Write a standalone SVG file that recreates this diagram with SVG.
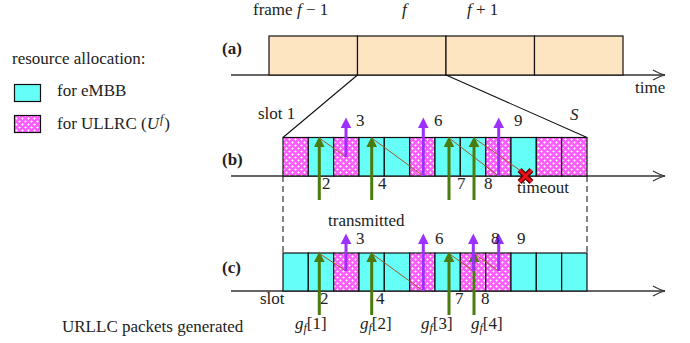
<svg xmlns="http://www.w3.org/2000/svg" width="690" height="343" viewBox="0 0 690 343">
<defs>
<style>
text{font-family:"Liberation Serif","Times New Roman",serif;font-size:17px;fill:#222}
.it{font-style:italic}
.b{font-weight:bold}
.ax{stroke:#333;stroke-width:1.3;fill:none}
.frame{fill:#fde5c2;stroke:#111;stroke-width:1.2}
.e{fill:#66fff8;stroke:#111;stroke-width:1.2}
.u{fill:url(#dots);stroke:#111;stroke-width:1.2}
.zl{stroke:#111;stroke-width:1.1;fill:none}
.dash{stroke:#333;stroke-width:1.2;stroke-dasharray:6 4;fill:none}
.g{stroke:#4b7a0e;stroke-width:3;fill:none;marker-end:url(#gh)}
.p{stroke:#9b30ff;stroke-width:3;fill:none;marker-end:url(#ph)}
.br{stroke:#a0572a;stroke-width:1;fill:none}
</style>
<pattern id="dots" width="6" height="6" patternUnits="userSpaceOnUse">
<rect width="6" height="6" fill="#ff5cff"/>
<path d="M1.5 0.4v2.2M0.4 1.5h2.2M4.5 3.4v2.2M3.4 4.5h2.2" stroke="#fff" stroke-width="1"/>
</pattern>
<marker id="gh" markerUnits="userSpaceOnUse" markerWidth="12" markerHeight="12" viewBox="0 0 10 10" refX="1" refY="5" orient="auto"><path d="M0 0.5L9 5L0 9.5z" fill="#4b7a0e"/></marker>
<marker id="ph" markerUnits="userSpaceOnUse" markerWidth="12" markerHeight="12" viewBox="0 0 10 10" refX="1" refY="5" orient="auto"><path d="M0 0.5L9 5L0 9.5z" fill="#9b30ff"/></marker>
<marker id="ta" markerUnits="userSpaceOnUse" markerWidth="14" markerHeight="12" viewBox="0 0 14 12" refX="13" refY="6" orient="auto"><path d="M1 1Q8 5 13 6Q8 7 1 11" fill="none" stroke="#333" stroke-width="1.2"/></marker>
</defs>

<g id="legend">
<text x="12" y="64">resource allocation:</text>
<rect x="14.5" y="84.5" width="26" height="17" class="e"/>
<text x="57" y="96">for eMBB</text>
<rect x="14.5" y="115.5" width="26" height="17" class="u"/>
<text x="57" y="129">for ULLRC (<tspan class="it">U</tspan><tspan class="it" font-size="12" dx="1" dy="-6">f</tspan><tspan dx="1" dy="6">)</tspan></text>
</g>

<g id="labels-top">
<text x="253" y="15">frame <tspan class="it">f</tspan> − 1</text>
<text x="402" y="15" class="it">f</text>
<text x="467" y="15"><tspan class="it">f</tspan> + 1</text>
<text x="222" y="54" class="b">(a)</text>
<text x="635" y="93">time</text>
<text x="222" y="165" class="b">(b)</text>
<text x="222" y="273" class="b">(c)</text>
<text x="62" y="332">URLLC packets generated</text>
</g>

<g id="axes">
<path class="ax" d="M231 75H665" marker-end="url(#ta)"/>
<path class="ax" d="M231 176H665" marker-end="url(#ta)"/>
<path class="ax" d="M231 291H665" marker-end="url(#ta)"/>
</g>

<g id="frames">
<rect x="269" y="36" width="88.5" height="39" class="frame"/>
<rect x="357.5" y="36" width="88.5" height="39" class="frame"/>
<rect x="446" y="36" width="88.5" height="39" class="frame"/>
<rect x="534.5" y="36" width="88.5" height="39" class="frame"/>
</g>

<g id="zoom">
<path class="zl" d="M357.5 75L283 137.5M446 75L587 137.5"/>
<path class="dash" d="M283 176V253M587 176V253"/>
</g>

<g id="slots-b">
<rect x="283" y="137.5" width="25.3" height="38.5" class="u"/>
<rect x="308.3" y="137.5" width="25.4" height="38.5" class="e"/>
<rect x="333.7" y="137.5" width="25.3" height="38.5" class="u"/>
<rect x="359" y="137.5" width="25.3" height="38.5" class="e"/>
<rect x="384.3" y="137.5" width="25.4" height="38.5" class="e"/>
<rect x="409.7" y="137.5" width="25.3" height="38.5" class="u"/>
<rect x="435" y="137.5" width="25.3" height="38.5" class="e"/>
<rect x="460.3" y="137.5" width="25.4" height="38.5" class="e"/>
<rect x="485.7" y="137.5" width="25.3" height="38.5" class="u"/>
<rect x="511" y="137.5" width="25.3" height="38.5" class="e"/>
<rect x="536.3" y="137.5" width="25.4" height="38.5" class="u"/>
<rect x="561.7" y="137.5" width="25.3" height="38.5" class="u"/>
</g>

<g id="slots-c">
<rect x="283" y="253" width="25.3" height="38" class="e"/>
<rect x="308.3" y="253" width="25.4" height="38" class="e"/>
<rect x="333.7" y="253" width="25.3" height="38" class="u"/>
<rect x="359" y="253" width="25.3" height="38" class="e"/>
<rect x="384.3" y="253" width="25.4" height="38" class="e"/>
<rect x="409.7" y="253" width="25.3" height="38" class="u"/>
<rect x="435" y="253" width="25.3" height="38" class="e"/>
<rect x="460.3" y="253" width="25.4" height="38" class="u"/>
<rect x="485.7" y="253" width="25.3" height="38" class="u"/>
<rect x="511" y="253" width="25.3" height="38" class="e"/>
<rect x="536.3" y="253" width="25.4" height="38" class="e"/>
<rect x="561.7" y="253" width="25.3" height="38" class="e"/>
</g>

<g id="connectors">
<path class="br" d="M319.3 138L346 157M371.7 138L423.3 176M449 138L498.7 176M474 138L521 171"/>
<path class="br" d="M319.3 253.5L346 271M371.7 253.5L423.3 291M449 253.5L473.3 271M474 253.5L498.7 271"/>
<path class="g" d="M319.3 200V146"/>
<path class="g" d="M371.7 200V146"/>
<path class="g" d="M449 200V146"/>
<path class="g" d="M474 200V146"/>
<path class="p" d="M346 157V127"/>
<path class="p" d="M423.3 176V127"/>
<path class="p" d="M498.7 176V127"/>
<path class="g" d="M319.3 315V261"/>
<path class="g" d="M371.7 315V261"/>
<path class="g" d="M449 315V261"/>
<path class="g" d="M474 315V261"/>
<path class="p" d="M346 271V243"/>
<path class="p" d="M423.3 291V243"/>
<path class="p" d="M473.3 271V243"/>
<path class="p" d="M498.7 271V243"/>
</g>

<g id="timeout">
<path d="M519.5 170L531.5 182M531.5 170L519.5 182" stroke="#5a0000" stroke-width="5.5" fill="none"/>
<path d="M519.5 170L531.5 182M531.5 170L519.5 182" stroke="#e8101a" stroke-width="3" fill="none"/>
</g>

<g id="labels-b">
<text x="258" y="119">slot 1</text>
<text x="570" y="120" class="it">S</text>
<text x="356" y="126">3</text>
<text x="434" y="126">6</text>
<text x="514" y="126">9</text>
<text x="322" y="189">2</text>
<text x="378" y="189">4</text>
<text x="457" y="189">7</text>
<text x="484" y="189">8</text>
<text x="517" y="193">timeout</text>
</g>

<g id="labels-c">
<text x="328" y="226">transmitted</text>
<text x="356" y="244">3</text>
<text x="435" y="244">6</text>
<text x="491" y="244">8</text>
<text x="517" y="244">9</text>
<text x="260" y="304">slot</text>
<text x="320" y="304">2</text>
<text x="376" y="304">4</text>
<text x="455" y="304">7</text>
<text x="481" y="304">8</text>
<text x="295" y="329"><tspan class="it">g</tspan><tspan class="it" font-size="12" dy="3">f</tspan><tspan dy="-3">[1]</tspan></text>
<text x="360" y="329"><tspan class="it">g</tspan><tspan class="it" font-size="12" dy="3">f</tspan><tspan dy="-3">[2]</tspan></text>
<text x="421" y="329"><tspan class="it">g</tspan><tspan class="it" font-size="12" dy="3">f</tspan><tspan dy="-3">[3]</tspan></text>
<text x="471" y="329"><tspan class="it">g</tspan><tspan class="it" font-size="12" dy="3">f</tspan><tspan dy="-3">[4]</tspan></text>
</g>
</svg>
